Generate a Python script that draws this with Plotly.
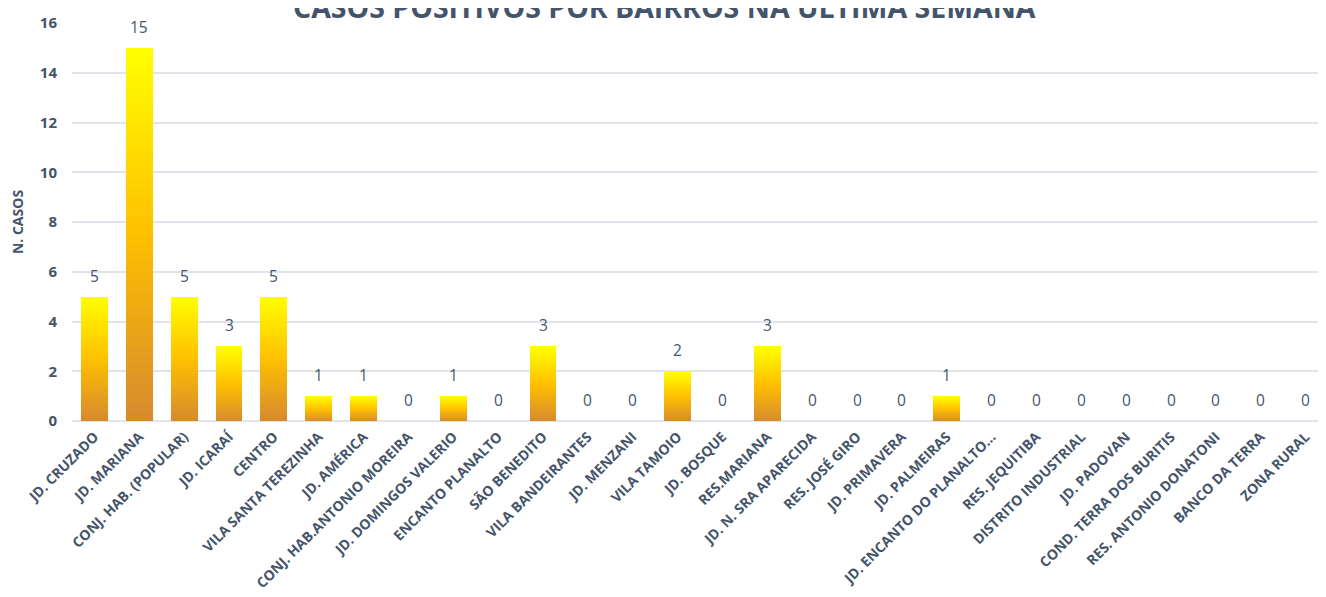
import plotly.graph_objects as go

bairros = [
    "JD. CRUZADO", "JD. MARIANA", "CONJ. HAB. (POPULAR)", "JD. ICARAÍ", "CENTRO",
    "VILA SANTA TEREZINHA", "JD. AMÉRICA", "CONJ. HAB.ANTONIO MOREIRA",
    "JD. DOMINGOS VALERIO", "ENCANTO PLANALTO", "SÃO BENEDITO", "VILA BANDEIRANTES",
    "JD. MENZANI", "VILA TAMOIO", "JD. BOSQUE", "RES.MARIANA", "JD. N. SRA APARECIDA",
    "RES. JOSÉ GIRO", "JD. PRIMAVERA", "JD. PALMEIRAS", "JD. ENCANTO DO PLANALTO...",
    "RES. JEQUITIBA", "DISTRITO INDUSTRIAL", "JD. PADOVAN", "COND. TERRA DOS BURITIS",
    "RES. ANTONIO DONATONI", "BANCO DA TERRA", "ZONA RURAL",
]
casos = [5, 15, 5, 3, 5, 1, 1, 0, 1, 0, 3, 0, 0, 2, 0, 3, 0, 0, 0, 1, 0, 0, 0, 0, 0, 0, 0, 0]

y_ticks = [0, 2, 4, 6, 8, 10, 12, 14, 16]

TEXT = "#44546A"
FONT = "Open Sans"

# gradient colour stops (bottom -> middle -> top)
stops = [(0.0, (214, 138, 46)), (0.5, (255, 192, 0)), (1.0, (255, 255, 0))]


def grad(t):
    for (t0, c0), (t1, c1) in zip(stops[:-1], stops[1:]):
        if t0 <= t <= t1:
            f = (t - t0) / (t1 - t0)
            return "rgb(%d,%d,%d)" % tuple(round(a + (b - a) * f) for a, b in zip(c0, c1))
    return "rgb(255,255,0)"


N = 40
fig = go.Figure()
for k in range(N):
    fig.add_trace(go.Bar(
        x=bairros,
        y=[v / N for v in casos],
        marker=dict(color=grad((k + 0.5) / N), line=dict(width=0)),
        showlegend=False,
        hoverinfo="skip",
    ))

for b, v in zip(bairros, casos):
    fig.add_annotation(
        x=b, y=v, xref="x", yref="y", text=str(v), showarrow=False,
        yanchor="bottom", yshift=8,
        font=dict(family=FONT, size=15.5, color=TEXT),
    )

fig.add_annotation(
    x=0.472, xref="paper", xanchor="center",
    y=1, yref="paper", yanchor="bottom", yshift=-5,
    text="<b>CASOS POSITIVOS POR BAIRROS NA ÚLTIMA SEMANA</b>",
    showarrow=False, font=dict(family=FONT, size=28.5, color=TEXT),
)

fig.update_layout(
    width=1326, height=597,
    barmode="stack", bargap=0.4,
    plot_bgcolor="white", paper_bgcolor="white",
    margin=dict(l=64, r=6, t=15, b=184),
    font=dict(family=FONT, color=TEXT),
    xaxis=dict(
        tickangle=-45, tickfont=dict(family=FONT, size=14, color=TEXT, weight="bold"),
        showgrid=False, showline=False, ticks="", automargin=False,
        ticklabelstandoff=4,
    ),
    yaxis=dict(
        range=[0, 16], tickvals=y_ticks, ticktext=[str(t) for t in y_ticks],
        tickfont=dict(family=FONT, size=15, color=TEXT, weight="bold"),
        gridcolor="#E1E4EA", gridwidth=1.5, zeroline=True, zerolinecolor="#E1E4EA", zerolinewidth=1.5,
        title=dict(text="<b>N. CASOS</b>", font=dict(family=FONT, size=14, color=TEXT), standoff=18),
        ticks="", ticklabelstandoff=14, automargin=False,
    ),
)

fig.write_html("out.html")
